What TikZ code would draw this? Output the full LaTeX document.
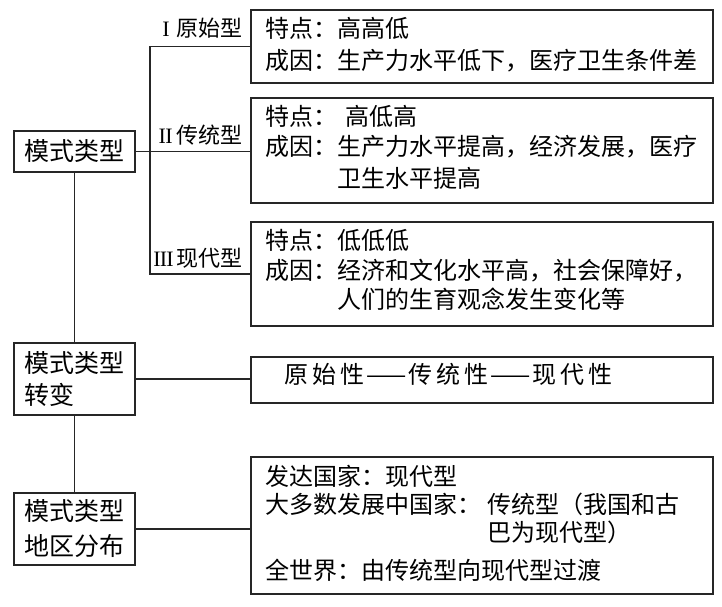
\documentclass[tikz,border=0pt]{standalone}
\usepackage{fontspec}
\setmainfont{Noto Sans CJK SC}
\newfontfamily\rmn{Liberation Serif}
\usetikzlibrary{fit}
\begin{document}
\begin{tikzpicture}[x=1pt,y=-1pt,
  frame/.style={draw=black!85, line width=1.6pt, inner sep=0pt, rectangle},
  conn/.style={draw=black!85, line width=1.6pt},
  txt/.style={anchor=west, inner sep=0pt, text height=0.88em, text depth=0.12em, font=\fontsize{24}{30}\selectfont},
  lbl/.style={anchor=east, inner sep=0pt, text height=0.88em, text depth=0.12em, font=\fontsize{22}{26}\selectfont},
  leftbox/.style={frame, align=left, font=\fontsize{25}{33}\selectfont}]
\useasboundingbox (0,0) rectangle (722,607);

% left boxes
\node[leftbox, fit={(14,131) (135,172)}] (m1) {};
\node[font=\fontsize{25}{33}\selectfont, inner sep=0pt] (m1t) at (m1.center) {模式类型};
\node[leftbox, fit={(14,343) (135,415)}] (m2) {};
\node[font=\fontsize{25}{32}\selectfont, align=left, inner sep=0pt] (m2t) at (m2.center) {模式类型\\转变};
\node[leftbox, fit={(14,493) (135,565)}] (m3) {};
\node[font=\fontsize{25}{35}\selectfont, align=left, inner sep=0pt] (m3t) at (m3.center) {模式类型\\地区分布};

% right boxes
\node[frame, fit={(251,10) (713,83)}] (b1) {};
\node[frame, fit={(251,98) (713,203)}] (b2) {};
\node[frame, fit={(251,222) (713,326)}] (b3) {};
\node[frame, fit={(251,357) (713,403)}] (b4) {};
\node[frame, fit={(251,457) (713,594)}] (b5) {};

% texts box1
\node[txt] (t11) at (265,34) {特点：高高低};
\node[txt] (t12) at (265,66) {成因：生产力水平低下，医疗卫生条件差};
% box2
\node[txt] (t21) at (265,122) {特点：\hspace{8pt}高低高};
\node[txt] (t22) at (265,152) {成因：生产力水平提高，经济发展，医疗};
\node[txt] (t23) at (337,184) {卫生水平提高};
% box3
\node[txt] (t31) at (265,246) {特点：低低低};
\node[txt] (t32) at (265,276) {成因：经济和文化水平高，社会保障好，};
\node[txt] (t33) at (337,305) {人们的生育观念发生变化等};
% box4
\node[txt] (t41) at (284,380) {原\hspace{4pt}始\hspace{4pt}性\hspace{2pt}——\hspace{2pt}传\hspace{4pt}统\hspace{4pt}性\hspace{2pt}——\hspace{2pt}现\hspace{4pt}代\hspace{4pt}性};
% box5
\node[txt] (t51) at (265,482) {发达国家：现代型};
\node[txt] (t52) at (265,510) {大多数发展中国家：\hspace{6pt}传统型（我国和古};
\node[txt] (t53) at (487,538) {巴为现代型）};
\node[txt] (t54) at (265,576) {全世界：由传统型向现代型过渡};

% labels
\node[lbl] (l1) at (243,33) {{\rmn I}\hspace{7pt}原始型};
\node[lbl] (l2) at (243,140) {{\rmn I\kern-0.5pt I}\hspace{4pt}传统型};
\node[lbl] (l3) at (243,263) {{\rmn I\kern-0.8pt I\kern-0.8pt I}\hspace{3pt}现代型};

% connectors
\coordinate (bx) at (150,0);
\draw[conn] (b1.west) -- (b1.west -| bx) -- (b3.west -| bx) -- (b3.west);
\draw[conn] (m1.east) -- (m1.east -| b2.west);
\draw[conn] (m1.south) -- (m2.north);
\draw[conn] (m2.south) -- (m3.north);
\draw[conn] (m2.east) -- (m2.east -| b4.west);
\draw[conn] (m3.east) -- (m3.east -| b5.west);
\end{tikzpicture}
\end{document}
